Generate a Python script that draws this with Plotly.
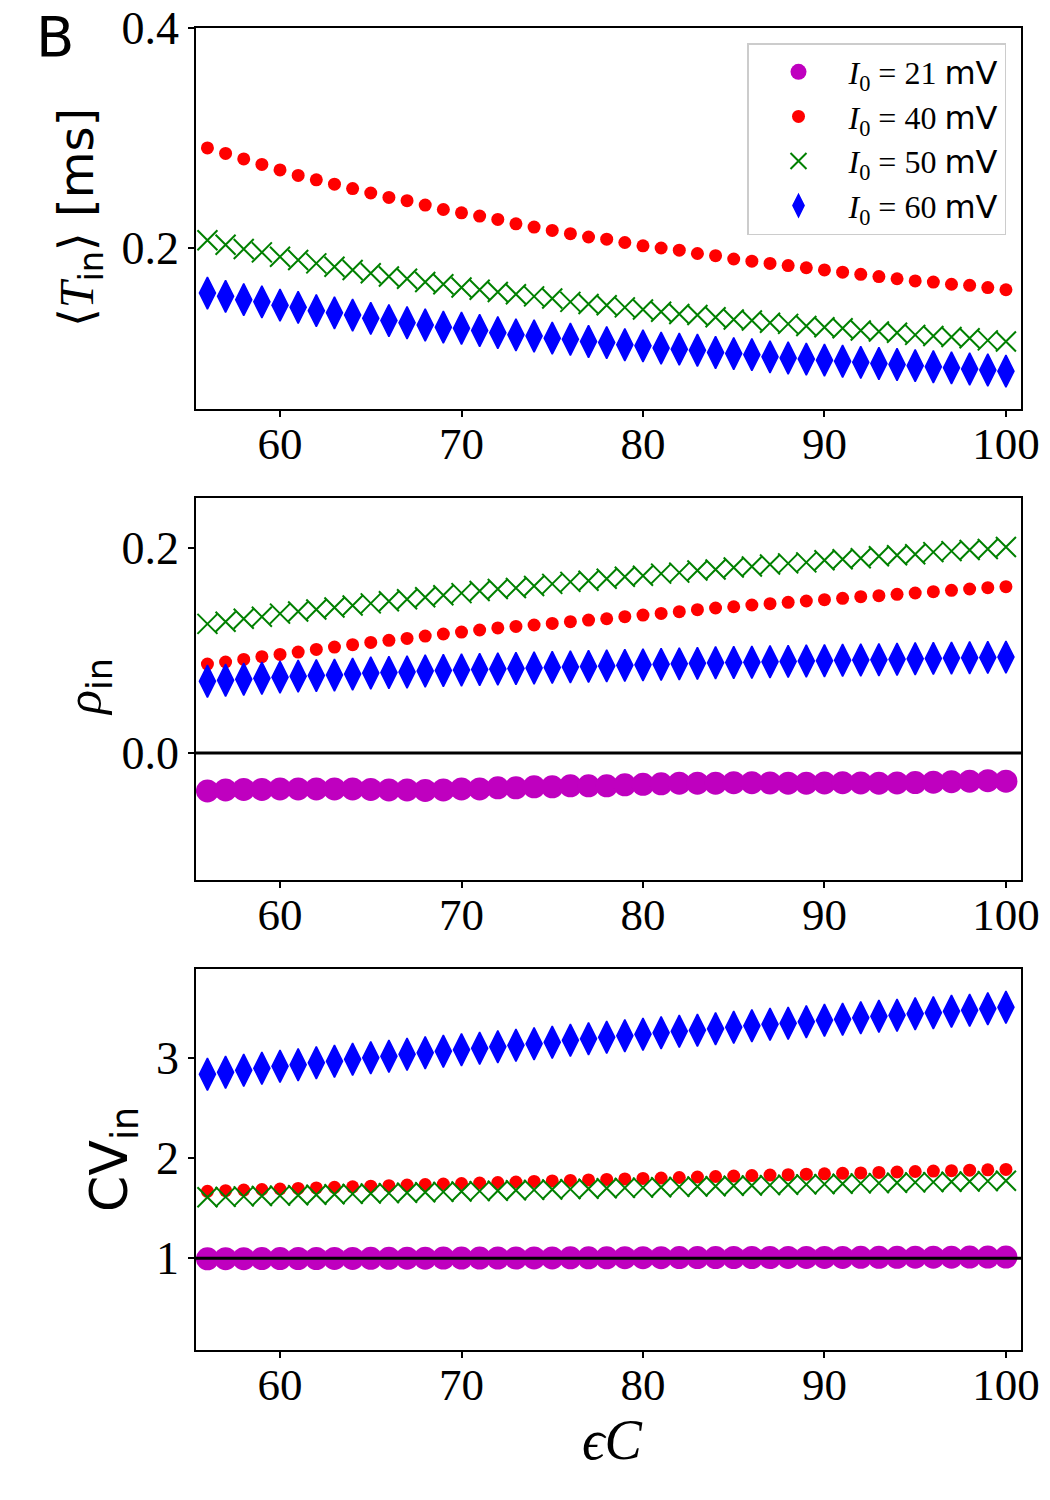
import plotly.graph_objects as go
from plotly.subplots import make_subplots

# ---------------- data ----------------
eC = list(range(56, 101))  # 45 points

# panel 1: <T_in> [ms]
t_red = [0.291, 0.286, 0.281, 0.276, 0.271, 0.266, 0.262, 0.258, 0.254, 0.250,
         0.246, 0.243, 0.239, 0.235, 0.232, 0.229, 0.226, 0.222, 0.219, 0.216,
         0.213, 0.210, 0.208, 0.205, 0.202, 0.200, 0.198, 0.195, 0.193, 0.190,
         0.188, 0.186, 0.184, 0.182, 0.180, 0.178, 0.176, 0.174, 0.172, 0.170,
         0.169, 0.167, 0.166, 0.164, 0.162]
t_green = [0.207, 0.203, 0.199, 0.196, 0.192, 0.189, 0.186, 0.183, 0.180, 0.177,
           0.174, 0.172, 0.169, 0.167, 0.164, 0.162, 0.160, 0.158, 0.156, 0.154,
           0.151, 0.149, 0.148, 0.146, 0.144, 0.142, 0.140, 0.139, 0.137, 0.135,
           0.134, 0.132, 0.131, 0.129, 0.128, 0.127, 0.125, 0.124, 0.123, 0.121,
           0.120, 0.119, 0.118, 0.116, 0.115]
t_blue = [0.159, 0.156, 0.153, 0.151, 0.148, 0.146, 0.143, 0.141, 0.139, 0.136,
          0.134, 0.132, 0.130, 0.128, 0.127, 0.125, 0.123, 0.121, 0.120, 0.118,
          0.117, 0.115, 0.114, 0.112, 0.111, 0.109, 0.108, 0.107, 0.105, 0.104,
          0.103, 0.101, 0.100, 0.099, 0.098, 0.097, 0.096, 0.095, 0.094, 0.093,
          0.092, 0.091, 0.090, 0.089, 0.088]

# panel 2: rho_in
r_mag = [-0.037, -0.036, -0.0355, -0.0355, -0.035, -0.035, -0.035, -0.035, -0.035, -0.0355,
         -0.036, -0.036, -0.0365, -0.036, -0.035, -0.035, -0.034, -0.034, -0.033, -0.033,
         -0.032, -0.032, -0.032, -0.031, -0.0305, -0.030, -0.0295, -0.0295, -0.0295, -0.029,
         -0.029, -0.0292, -0.0295, -0.0295, -0.0292, -0.029, -0.0292, -0.0295, -0.0292, -0.0288,
         -0.0285, -0.028, -0.0275, -0.027, -0.0275]
r_red = [0.0868, 0.0888, 0.0913, 0.0940, 0.0962, 0.0985, 0.1011, 0.1034, 0.1057, 0.1079,
         0.1099, 0.1118, 0.1141, 0.1161, 0.1180, 0.1200, 0.1220, 0.1235, 0.1249, 0.1264,
         0.1281, 0.1297, 0.1310, 0.1330, 0.1346, 0.1362, 0.1379, 0.1398, 0.1415, 0.1427,
         0.1444, 0.1457, 0.1470, 0.1483, 0.1496, 0.1509, 0.1525, 0.1535, 0.1548, 0.1561,
         0.1574, 0.1587, 0.1600, 0.1613, 0.1623]
r_green = [0.126, 0.128, 0.131, 0.133, 0.136, 0.138, 0.140, 0.142, 0.144, 0.146,
           0.148, 0.150, 0.152, 0.154, 0.156, 0.158, 0.160, 0.161, 0.163, 0.165,
           0.167, 0.168, 0.170, 0.172, 0.173, 0.175, 0.176, 0.178, 0.179, 0.181,
           0.182, 0.184, 0.185, 0.186, 0.188, 0.189, 0.190, 0.192, 0.193, 0.194,
           0.196, 0.197, 0.198, 0.199, 0.201]
r_blue = [0.070, 0.071, 0.072, 0.073, 0.074, 0.075, 0.0755, 0.076, 0.077, 0.078,
          0.0785, 0.079, 0.080, 0.0805, 0.081, 0.0815, 0.082, 0.0825, 0.083, 0.0835,
          0.084, 0.0845, 0.085, 0.0855, 0.086, 0.0865, 0.087, 0.0875, 0.088, 0.0883,
          0.0886, 0.089, 0.0894, 0.0898, 0.090, 0.0905, 0.0908, 0.091, 0.0915, 0.092,
          0.0923, 0.0926, 0.093, 0.0933, 0.0936]

# panel 3: CV_in
c_mag = [0.995, 0.996, 0.996, 0.997, 0.997, 0.998, 0.998, 0.999, 0.999, 1.000,
         1.000, 1.001, 1.001, 1.002, 1.002, 1.002, 1.003, 1.003, 1.004, 1.004,
         1.005, 1.005, 1.005, 1.006, 1.006, 1.006, 1.007, 1.007, 1.007, 1.008,
         1.008, 1.008, 1.009, 1.009, 1.009, 1.009, 1.010, 1.010, 1.010, 1.011,
         1.011, 1.011, 1.012, 1.012, 1.012]
c_red = [1.670, 1.676, 1.682, 1.688, 1.693, 1.699, 1.704, 1.710, 1.715, 1.721,
         1.726, 1.732, 1.737, 1.742, 1.748, 1.753, 1.758, 1.763, 1.769, 1.774,
         1.779, 1.784, 1.789, 1.794, 1.799, 1.803, 1.808, 1.813, 1.818, 1.822,
         1.827, 1.832, 1.836, 1.841, 1.845, 1.850, 1.854, 1.859, 1.863, 1.868,
         1.872, 1.876, 1.881, 1.885, 1.889]
c_green = [1.610, 1.614, 1.619, 1.623, 1.627, 1.631, 1.635, 1.640, 1.644, 1.648,
           1.652, 1.656, 1.660, 1.664, 1.668, 1.672, 1.676, 1.680, 1.684, 1.688,
           1.692, 1.696, 1.700, 1.704, 1.707, 1.711, 1.714, 1.718, 1.721, 1.725,
           1.728, 1.732, 1.735, 1.739, 1.742, 1.745, 1.749, 1.752, 1.755, 1.759,
           1.762, 1.765, 1.768, 1.772, 1.775]
c_blue = [2.84, 2.86, 2.88, 2.90, 2.92, 2.935, 2.955, 2.97, 2.99, 3.005,
          3.02, 3.04, 3.055, 3.07, 3.085, 3.10, 3.115, 3.13, 3.145, 3.16,
          3.18, 3.195, 3.21, 3.225, 3.24, 3.255, 3.27, 3.28, 3.295, 3.31,
          3.325, 3.34, 3.35, 3.365, 3.38, 3.39, 3.405, 3.42, 3.43, 3.445,
          3.455, 3.47, 3.48, 3.495, 3.51]

x_ticks = [60, 70, 80, 90, 100]
I0_values = ["21", "40", "50", "60"]

# ---------------- styles ----------------
serif = "Liberation Serif"
sans = "DejaVu Sans"
MAG, RED, GRN, BLU = "#BF00BF", "#FF0000", "#008000", "#0000FF"
styles = {
    "m": dict(symbol="circle", size=23, color=MAG, line=dict(width=0)),
    "r": dict(symbol="circle", size=13, color=RED, line=dict(width=0)),
    "g": dict(symbol="x-thin", size=20, color=GRN, line=dict(width=2, color=GRN)),
    "b": dict(symbol="diamond-tall", size=23, color=BLU, line=dict(width=1.5, color=BLU)),
}
keys = ["m", "r", "g", "b"]
names = {k: f'<i>I</i><sub>0</sub> = {v} <span style="font-family:{sans}">mV</span>'
         for k, v in zip(keys, I0_values)}
ranks = {"m": 1, "r": 2, "g": 3, "b": 4}

fig = make_subplots(rows=3, cols=1)

def add(key, y, row, show):
    fig.add_trace(go.Scatter(x=eC, y=y, mode="markers", marker=styles[key],
                             name=names[key], showlegend=show, legendrank=ranks[key]),
                  row=row, col=1)

add("r", t_red, 1, True)
add("g", t_green, 1, True)
add("b", t_blue, 1, True)

add("m", r_mag, 2, True)
add("r", r_red, 2, False)
add("g", r_green, 2, False)
add("b", r_blue, 2, False)

add("m", c_mag, 3, False)
add("r", c_red, 3, False)
add("g", c_green, 3, False)
add("b", c_blue, 3, False)

W, H = 1050, 1500
xdom = [196 / W, 1021 / W]
ydoms = [[1 - 409 / H, 1 - 28 / H], [1 - 880 / H, 1 - 498 / H], [1 - 1350 / H, 1 - 969 / H]]
yranges = [[0.0536, 0.4], [-0.1239, 0.2488], [0.083, 3.893]]
ytickv = [[0.2, 0.4], [0.0, 0.2], [1, 2, 3]]
ytickt = [["0.2", "0.4"], ["0.0", "0.2"], ["1", "2", "3"]]

axis_common = dict(showline=True, linecolor="black", linewidth=1.5, mirror=True,
                   ticks="outside", ticklen=6, tickwidth=1.5, tickcolor="black",
                   showgrid=False, zeroline=False, automargin=False)

for i in range(3):
    xa = "xaxis" if i == 0 else f"xaxis{i+1}"
    ya = "yaxis" if i == 0 else f"yaxis{i+1}"
    fig.layout[xa].update(domain=xdom, range=[55.37, 100.83], tickvals=x_ticks,
                          ticktext=[str(v) for v in x_ticks],
                          tickfont=dict(family=serif, size=45, color="black"),
                          ticklabelstandoff=-12, **axis_common)
    fig.layout[ya].update(domain=ydoms[i], range=yranges[i], tickvals=ytickv[i],
                          ticktext=ytickt[i],
                          tickfont=dict(family=serif, size=46, color="black"),
                          **axis_common)

# reference lines
fig.add_shape(type="line", xref="x2 domain", yref="y2", x0=0, x1=1, y0=0, y1=0,
              line=dict(color="black", width=3))
fig.add_shape(type="line", xref="x3 domain", yref="y3", x0=0, x1=1, y0=1, y1=1,
              line=dict(color="black", width=3))

ann = []
ann.append(dict(text=f'⟨<span style="font-family:{serif}"><i>T</i></span><sub>in</sub>⟩ [ms]',
                x=80 / W, y=1 - 218 / H, textangle=-90,
                font=dict(family=sans, size=48, color="black")))
ann.append(dict(text=f'<span style="font-family:{serif}"><i>ρ</i></span><sub>in</sub>',
                x=88 / W, y=1 - 687 / H, textangle=-90,
                font=dict(family=sans, size=50, color="black")))
ann.append(dict(text="CV<sub>in</sub>",
                x=113 / W, y=1 - 1160 / H, textangle=-90,
                font=dict(family=sans, size=52, color="black")))
ann.append(dict(text="<i>ϵC</i>", x=612 / W, y=1 - 1440 / H,
                font=dict(family=serif, size=56, color="black")))
ann.append(dict(text="B", x=55 / W, y=1 - 36 / H,
                font=dict(family=sans, size=56, color="black")))
for a in ann:
    a.update(xref="paper", yref="paper", showarrow=False, xanchor="center", yanchor="middle")
fig.update_layout(annotations=ann)

fig.update_layout(
    width=W, height=H,
    margin=dict(l=0, r=0, t=0, b=0, autoexpand=False),
    paper_bgcolor="white", plot_bgcolor="white",
    legend=dict(x=1006 / W, y=1 - 43 / H, xanchor="right", yanchor="top",
                bgcolor="white", bordercolor="#cccccc", borderwidth=1.5,
                font=dict(family=serif, size=32, color="black"),
                itemsizing="trace", itemwidth=90),
)

fig.write_html("out.html")
